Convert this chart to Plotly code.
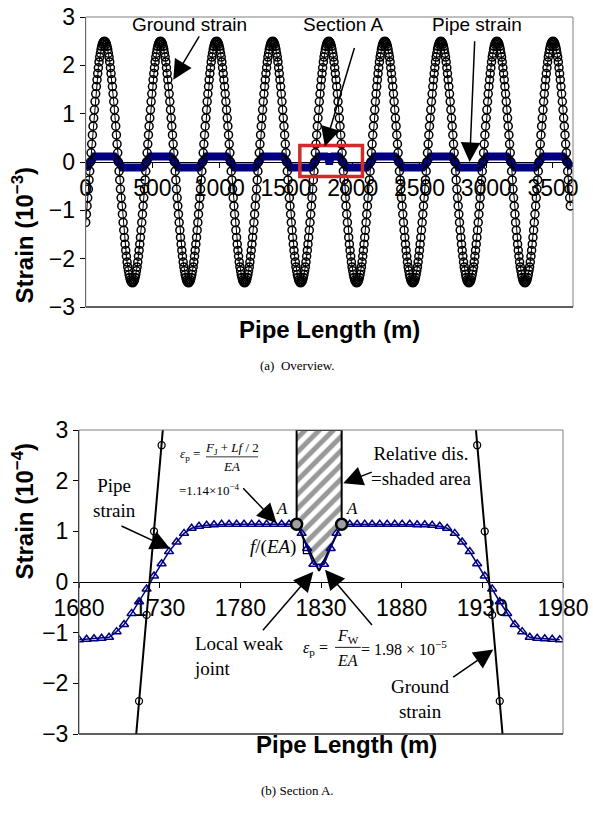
import plotly.graph_objects as go

# ---------------- DATA ----------------
# (a) Overview: ground strain (10^-3) sampled every 5 m from 0 to 3630 m
ground_top = [
 -1.25, -1.08, -0.91, -0.74, -0.56, -0.37, -0.19, 0.0, 0.19, 0.37, 0.56, 0.74, 0.91, 1.08, 1.25, 1.41, 1.56, 1.70, 1.83, 1.95, 2.07, 2.17, 2.25, 2.33, 2.39, 2.44, 2.47, 2.49, 2.50, 2.49, 2.47, 2.44, 2.39, 2.33, 2.25, 2.17, 2.07, 1.95, 1.83, 1.70, 1.56, 1.41, 1.25, 1.08, 0.91, 0.74, 0.56, 0.37, 0.19, 0.0, -0.19, -0.37, -0.56, -0.74, -0.91, -1.08, -1.25, -1.41, -1.56, -1.70, -1.83, -1.95, -2.07, -2.17, -2.25, -2.33, -2.39, -2.44, -2.47, -2.49, -2.50, -2.49, -2.47, -2.44, -2.39, -2.33, -2.25, -2.17, -2.07, -1.95, -1.83, -1.70, -1.56, -1.41,
 -1.25, -1.08, -0.91, -0.74, -0.56, -0.37, -0.19, 0.0, 0.19, 0.37, 0.56, 0.74, 0.91, 1.08, 1.25, 1.41, 1.56, 1.70, 1.83, 1.95, 2.07, 2.17, 2.25, 2.33, 2.39, 2.44, 2.47, 2.49, 2.50, 2.49, 2.47, 2.44, 2.39, 2.33, 2.25, 2.17, 2.07, 1.95, 1.83, 1.70, 1.56, 1.41, 1.25, 1.08, 0.91, 0.74, 0.56, 0.37, 0.19, 0.0, -0.19, -0.37, -0.56, -0.74, -0.91, -1.08, -1.25, -1.41, -1.56, -1.70, -1.83, -1.95, -2.07, -2.17, -2.25, -2.33, -2.39, -2.44, -2.47, -2.49, -2.50, -2.49, -2.47, -2.44, -2.39, -2.33, -2.25, -2.17, -2.07, -1.95, -1.83, -1.70, -1.56, -1.41,
 -1.25, -1.08, -0.91, -0.74, -0.56, -0.37, -0.19, 0.0, 0.19, 0.37, 0.56, 0.74, 0.91, 1.08, 1.25, 1.41, 1.56, 1.70, 1.83, 1.95, 2.07, 2.17, 2.25, 2.33, 2.39, 2.44, 2.47, 2.49, 2.50, 2.49, 2.47, 2.44, 2.39, 2.33, 2.25, 2.17, 2.07, 1.95, 1.83, 1.70, 1.56, 1.41, 1.25, 1.08, 0.91, 0.74, 0.56, 0.37, 0.19, 0.0, -0.19, -0.37, -0.56, -0.74, -0.91, -1.08, -1.25, -1.41, -1.56, -1.70, -1.83, -1.95, -2.07, -2.17, -2.25, -2.33, -2.39, -2.44, -2.47, -2.49, -2.50, -2.49, -2.47, -2.44, -2.39, -2.33, -2.25, -2.17, -2.07, -1.95, -1.83, -1.70, -1.56, -1.41,
 -1.25, -1.08, -0.91, -0.74, -0.56, -0.37, -0.19, 0.0, 0.19, 0.37, 0.56, 0.74, 0.91, 1.08, 1.25, 1.41, 1.56, 1.70, 1.83, 1.95, 2.07, 2.17, 2.25, 2.33, 2.39, 2.44, 2.47, 2.49, 2.50, 2.49, 2.47, 2.44, 2.39, 2.33, 2.25, 2.17, 2.07, 1.95, 1.83, 1.70, 1.56, 1.41, 1.25, 1.08, 0.91, 0.74, 0.56, 0.37, 0.19, 0.0, -0.19, -0.37, -0.56, -0.74, -0.91, -1.08, -1.25, -1.41, -1.56, -1.70, -1.83, -1.95, -2.07, -2.17, -2.25, -2.33, -2.39, -2.44, -2.47, -2.49, -2.50, -2.49, -2.47, -2.44, -2.39, -2.33, -2.25, -2.17, -2.07, -1.95, -1.83, -1.70, -1.56, -1.41,
 -1.25, -1.08, -0.91, -0.74, -0.56, -0.37, -0.19, 0.0, 0.19, 0.37, 0.56, 0.74, 0.91, 1.08, 1.25, 1.41, 1.56, 1.70, 1.83, 1.95, 2.07, 2.17, 2.25, 2.33, 2.39, 2.44, 2.47, 2.49, 2.50, 2.49, 2.47, 2.44, 2.39, 2.33, 2.25, 2.17, 2.07, 1.95, 1.83, 1.70, 1.56, 1.41, 1.25, 1.08, 0.91, 0.74, 0.56, 0.37, 0.19, 0.0, -0.19, -0.37, -0.56, -0.74, -0.91, -1.08, -1.25, -1.41, -1.56, -1.70, -1.83, -1.95, -2.07, -2.17, -2.25, -2.33, -2.39, -2.44, -2.47, -2.49, -2.50, -2.49, -2.47, -2.44, -2.39, -2.33, -2.25, -2.17, -2.07, -1.95, -1.83, -1.70, -1.56, -1.41,
 -1.25, -1.08, -0.91, -0.74, -0.56, -0.37, -0.19, 0.0, 0.19, 0.37, 0.56, 0.74, 0.91, 1.08, 1.25, 1.41, 1.56, 1.70, 1.83, 1.95, 2.07, 2.17, 2.25, 2.33, 2.39, 2.44, 2.47, 2.49, 2.50, 2.49, 2.47, 2.44, 2.39, 2.33, 2.25, 2.17, 2.07, 1.95, 1.83, 1.70, 1.56, 1.41, 1.25, 1.08, 0.91, 0.74, 0.56, 0.37, 0.19, 0.0, -0.19, -0.37, -0.56, -0.74, -0.91, -1.08, -1.25, -1.41, -1.56, -1.70, -1.83, -1.95, -2.07, -2.17, -2.25, -2.33, -2.39, -2.44, -2.47, -2.49, -2.50, -2.49, -2.47, -2.44, -2.39, -2.33, -2.25, -2.17, -2.07, -1.95, -1.83, -1.70, -1.56, -1.41,
 -1.25, -1.08, -0.91, -0.74, -0.56, -0.37, -0.19, 0.0, 0.19, 0.37, 0.56, 0.74, 0.91, 1.08, 1.25, 1.41, 1.56, 1.70, 1.83, 1.95, 2.07, 2.17, 2.25, 2.33, 2.39, 2.44, 2.47, 2.49, 2.50, 2.49, 2.47, 2.44, 2.39, 2.33, 2.25, 2.17, 2.07, 1.95, 1.83, 1.70, 1.56, 1.41, 1.25, 1.08, 0.91, 0.74, 0.56, 0.37, 0.19, 0.0, -0.19, -0.37, -0.56, -0.74, -0.91, -1.08, -1.25, -1.41, -1.56, -1.70, -1.83, -1.95, -2.07, -2.17, -2.25, -2.33, -2.39, -2.44, -2.47, -2.49, -2.50, -2.49, -2.47, -2.44, -2.39, -2.33, -2.25, -2.17, -2.07, -1.95, -1.83, -1.70, -1.56, -1.41,
 -1.25, -1.08, -0.91, -0.74, -0.56, -0.37, -0.19, 0.0, 0.19, 0.37, 0.56, 0.74, 0.91, 1.08, 1.25, 1.41, 1.56, 1.70, 1.83, 1.95, 2.07, 2.17, 2.25, 2.33, 2.39, 2.44, 2.47, 2.49, 2.50, 2.49, 2.47, 2.44, 2.39, 2.33, 2.25, 2.17, 2.07, 1.95, 1.83, 1.70, 1.56, 1.41, 1.25, 1.08, 0.91, 0.74, 0.56, 0.37, 0.19, 0.0, -0.19, -0.37, -0.56, -0.74, -0.91, -1.08, -1.25, -1.41, -1.56, -1.70, -1.83, -1.95, -2.07, -2.17, -2.25, -2.33, -2.39, -2.44, -2.47, -2.49, -2.50, -2.49, -2.47, -2.44, -2.39, -2.33, -2.25, -2.17, -2.07, -1.95, -1.83, -1.70, -1.56, -1.41,
 -1.25, -1.08, -0.91, -0.74, -0.56, -0.37, -0.19, 0.0, 0.19, 0.37, 0.56, 0.74, 0.91, 1.08, 1.25, 1.41, 1.56, 1.70, 1.83, 1.95, 2.07, 2.17, 2.25, 2.33, 2.39, 2.44, 2.47, 2.49, 2.50, 2.49, 2.47, 2.44, 2.39, 2.33, 2.25, 2.17, 2.07, 1.95, 1.83, 1.70, 1.56, 1.41, 1.25, 1.08, 0.91, 0.74, 0.56, 0.37, 0.19, 0.0, -0.19, -0.37, -0.56, -0.74, -0.91,
]
GROUND_STEP_M = 5
ground_top_x = [GROUND_STEP_M * i for i in range(len(ground_top))]

# (a) Overview: pipe strain (10^-3), breakpoints along the pipe
pipe_top_x = [0, 5, 15, 25, 35, 45, 55, 65,
              215, 225, 235, 245, 255, 265, 275,
              425, 435, 445, 455, 465, 475, 485,
              635, 645, 655, 665, 675, 685, 695,
              845, 855, 865, 875, 885, 895, 905,
              1055, 1065, 1075, 1085, 1095, 1105, 1115,
              1265, 1275, 1285, 1295, 1305, 1315, 1325,
              1475, 1485, 1495, 1505, 1515, 1525, 1535,
              1685, 1695, 1705, 1715, 1725, 1735, 1745,
              1805, 1815, 1822, 1828, 1835, 1845,
              1895, 1905, 1915, 1925, 1935, 1945, 1955,
              2105, 2115, 2125, 2135, 2145, 2155, 2165,
              2315, 2325, 2335, 2345, 2355, 2365, 2375,
              2525, 2535, 2545, 2555, 2565, 2575, 2585,
              2735, 2745, 2755, 2765, 2775, 2785, 2795,
              2945, 2955, 2965, 2975, 2985, 2995, 3005,
              3155, 3165, 3175, 3185, 3195, 3205, 3215,
              3365, 3375, 3385, 3395, 3405, 3415, 3425,
              3575, 3585, 3595, 3605, 3615, 3625, 3635, 3640]
pipe_top = [-0.115, -0.115, -0.10, -0.055, 0, 0.055, 0.10, 0.115,
            0.115, 0.10, 0.055, 0, -0.055, -0.10, -0.115,
            -0.115, -0.10, -0.055, 0, 0.055, 0.10, 0.115,
            0.115, 0.10, 0.055, 0, -0.055, -0.10, -0.115,
            -0.115, -0.10, -0.055, 0, 0.055, 0.10, 0.115,
            0.115, 0.10, 0.055, 0, -0.055, -0.10, -0.115,
            -0.115, -0.10, -0.055, 0, 0.055, 0.10, 0.115,
            0.115, 0.10, 0.055, 0, -0.055, -0.10, -0.115,
            -0.115, -0.10, -0.055, 0, 0.055, 0.10, 0.115,
            0.115, 0.105, 0.02, 0.02, 0.105, 0.115,
            0.115, 0.10, 0.055, 0, -0.055, -0.10, -0.115,
            -0.115, -0.10, -0.055, 0, 0.055, 0.10, 0.115,
            0.115, 0.10, 0.055, 0, -0.055, -0.10, -0.115,
            -0.115, -0.10, -0.055, 0, 0.055, 0.10, 0.115,
            0.115, 0.10, 0.055, 0, -0.055, -0.10, -0.115,
            -0.115, -0.10, -0.055, 0, 0.055, 0.10, 0.115,
            0.115, 0.10, 0.055, 0, -0.055, -0.10, -0.115,
            -0.115, -0.10, -0.055, 0, 0.055, 0.10, 0.115,
            0.115, 0.10, 0.055, 0, -0.055, -0.10, -0.115, -0.115]

top_xticks = [0, 500, 1000, 1500, 2000, 2500, 3000, 3500]
strain_ticks = [-3, -2, -1, 0, 1, 2, 3]
section_box_x = [1604, 2073]
section_box_y = [-0.30, 0.34]

# (b) Section A: pipe strain (10^-4)
pipe_sec_x = [1680.0, 1684.7, 1689.3, 1694.0, 1698.6, 1703.3, 1707.9, 1712.6, 1717.2, 1721.9,
              1726.5, 1731.2, 1735.8, 1740.5, 1745.1, 1749.8, 1754.4, 1759.1, 1763.7, 1768.4,
              1773.0, 1777.7, 1782.3, 1787.0, 1791.6, 1796.3, 1800.9, 1805.6, 1810.2,
              1814.9, 1818.0, 1821.4, 1825.3, 1831.9, 1836.0, 1839.6, 1842.8,
              1847.8, 1852.4, 1857.1, 1861.7, 1866.4, 1871.0, 1875.7, 1880.3, 1885.0, 1889.6,
              1894.3, 1898.9, 1903.6, 1908.2, 1912.9, 1917.5, 1922.2, 1926.8, 1931.5, 1936.1,
              1940.8, 1945.4, 1950.1, 1954.7, 1959.4, 1964.0, 1968.7, 1973.3, 1978.0]
pipe_sec = [-1.14, -1.13, -1.12, -1.11, -1.09, -0.98, -0.84, -0.62, -0.39, -0.14,
            0.12, 0.36, 0.60, 0.79, 0.96, 1.06, 1.10, 1.12, 1.13, 1.14,
            1.14, 1.14, 1.14, 1.14, 1.14, 1.14, 1.14, 1.14, 1.14,
            1.14, 0.96, 0.66, 0.35, 0.35, 0.66, 0.96, 1.14,
            1.14, 1.14, 1.14, 1.14, 1.14, 1.14, 1.14, 1.14, 1.14, 1.13,
            1.13, 1.12, 1.10, 1.06, 0.96, 0.79, 0.60, 0.36, 0.12, -0.14,
            -0.39, -0.62, -0.84, -0.98, -1.09, -1.11, -1.12, -1.13, -1.14]

# (b) Section A: ground strain (10^-4) near its two zero crossings
ground_sec_x = [1712.6, 1717.2, 1721.9, 1726.5, 1731.2, 1735.8, None,
                1922.2, 1926.8, 1931.5, 1936.1, 1940.8, 1945.4]
ground_sec = [-4.05, -2.35, -0.65, 1.0, 2.7, 4.4, None,
              4.4, 2.7, 1.0, -0.65, -2.35, -4.05]

# points A and the shaded relative-displacement region
a_x = [1814.9, 1842.8]
a_y = [1.14, 1.14]
shade_x = [1814.9, 1814.9, 1828.8, 1842.8, 1842.8, 1814.9]
shade_y = [3, 1.14, 0.22, 1.14, 3, 3]
slope_x = [1819.1, 1819.1, 1824.5]
slope_y = [0.90, 0.56, 0.56]
sec_xticks = [1680, 1730, 1780, 1830, 1880, 1930, 1980]

# ---------------- FIGURE ----------------
W, H = 593, 813
NAVY = "#000080"
SANS = "Liberation Sans, Arial, sans-serif"
SERIF = "Liberation Serif, Times New Roman, serif"

def px(xp):
    return xp / W

def py(yp):
    return 1 - yp / H

top_dom_x = [px(85.7), px(573)]
top_dom_y = [py(307), py(17)]
bot_dom_x = [px(79), px(563)]
bot_dom_y = [py(734), py(430)]

fig = go.Figure()

# --- (a) overview ---
fig.add_trace(go.Scatter(x=pipe_top_x, y=pipe_top, mode="lines",
                         line=dict(color=NAVY, width=8),
                         xaxis="x", yaxis="y", hoverinfo="skip"))
fig.add_trace(go.Scatter(x=ground_top_x, y=ground_top, mode="lines+markers",
                         line=dict(color="black", width=1),
                         marker=dict(symbol="circle-open", size=8, color="black",
                                     line=dict(width=1.5, color="black")),
                         xaxis="x", yaxis="y", hoverinfo="skip"))

# --- (b) section A ---
fig.add_trace(go.Scatter(x=shade_x, y=shade_y, mode="lines", fill="toself",
                         fillcolor="white",
                         fillpattern=dict(shape="/", fgcolor="#999999", bgcolor="white",
                                          size=10, solidity=0.5),
                         line=dict(color="black", width=2),
                         xaxis="x2", yaxis="y2", hoverinfo="skip"))
fig.add_trace(go.Scatter(x=pipe_sec_x, y=pipe_sec, mode="lines+markers",
                         line=dict(color=NAVY, width=1.5),
                         marker=dict(symbol="triangle-up-open", size=8, color=NAVY,
                                     line=dict(width=1.5, color=NAVY)),
                         xaxis="x2", yaxis="y2", hoverinfo="skip"))
fig.add_trace(go.Scatter(x=ground_sec_x, y=ground_sec, mode="lines+markers",
                         line=dict(color="black", width=2),
                         marker=dict(symbol="circle-open", size=7, color="black",
                                     line=dict(width=1.3, color="black")),
                         xaxis="x2", yaxis="y2", hoverinfo="skip", connectgaps=False))
fig.add_trace(go.Scatter(x=slope_x, y=slope_y, mode="lines",
                         line=dict(color="black", width=1.2),
                         xaxis="x2", yaxis="y2", hoverinfo="skip"))
fig.add_trace(go.Scatter(x=a_x, y=a_y, mode="markers",
                         marker=dict(symbol="circle", size=11, color="#a0a0a0",
                                     line=dict(width=2.5, color="black")),
                         xaxis="x2", yaxis="y2", hoverinfo="skip"))

axis_common = dict(showgrid=False, zeroline=False, showline=True, linecolor="black",
                   linewidth=1, ticks="outside", ticklen=5, tickcolor="black",
                   automargin=False,
                   tickfont=dict(family=SANS, size=23, color="black"))

fig.update_layout(
    template="none",
    width=W, height=H, margin=dict(l=0, r=0, t=0, b=0, pad=0), autosize=False,
    paper_bgcolor="white", plot_bgcolor="white", showlegend=False,
    xaxis=dict(domain=top_dom_x, range=[0, 3650], tickvals=top_xticks,
               anchor="free", position=(top_dom_y[0] + top_dom_y[1]) / 2,
               layer="below traces", **axis_common),
    yaxis=dict(domain=top_dom_y, range=[-3, 3], tickvals=strain_ticks, anchor="x",
               **axis_common),
    xaxis2=dict(domain=bot_dom_x, range=[1680, 1980], tickvals=sec_xticks,
                anchor="free", position=(bot_dom_y[0] + bot_dom_y[1]) / 2,
                layer="below traces", **axis_common),
    yaxis2=dict(domain=bot_dom_y, range=[-3, 3], tickvals=strain_ticks, anchor="x2",
                **axis_common),
)

shapes = []
for xr, yr in (("x", "y"), ("x2", "y2")):
    shapes.append(dict(type="rect", xref=f"{xr} domain", yref=f"{yr} domain",
                       x0=0, x1=1, y0=0, y1=1, line=dict(color="#808080", width=1)))
    shapes.append(dict(type="line", xref=f"{xr} domain", yref=f"{yr} domain",
                       x0=0, x1=1, y0=0, y1=0, line=dict(color="black", width=1)))
# Section A box on overview
shapes.append(dict(type="rect", xref="x", yref="y",
                   x0=section_box_x[0], x1=section_box_x[1],
                   y0=section_box_y[0], y1=section_box_y[1],
                   line=dict(color="#d42a2a", width=3.5)))
# fraction bars
shapes.append(dict(type="line", xref="x2", yref="y2", x0=1758.7, x1=1791, y0=2.47, y1=2.47,
                   line=dict(color="black", width=0.8)))
shapes.append(dict(type="line", xref="x2", yref="y2", x0=1838.7, x1=1854.6, y0=-1.29, y1=-1.29,
                   line=dict(color="black", width=0.9)))
fig.update_layout(shapes=shapes)

ann = []

def text(x, y, s, size, family=SANS, xref="x", yref="y", **kw):
    d = dict(x=x, y=y, xref=xref, yref=yref, text=s, showarrow=False,
             font=dict(family=family, size=size, color="black"))
    d.update(kw)
    ann.append(d)

def arrow(tx, ty, fx, fy, xref="x", yref="y", size=2.6):
    ann.append(dict(x=tx, y=ty, ax=fx, ay=fy, xref=xref, yref=yref,
                    axref=xref, ayref=yref, text="", showarrow=True,
                    arrowhead=2, arrowsize=size, arrowwidth=1.5, arrowcolor="black"))

# overview labels
text(780, 2.84, "Ground strain", 19)
arrow(656, 1.70, 857, 2.63)
text(1933, 2.84, "Section A", 19)
arrow(1791, 0.32, 2016, 2.39)
text(2929, 2.84, "Pipe strain", 19)
arrow(2876, 0.0, 2914, 2.53)

# section A labels
X2 = dict(xref="x2", yref="y2")
text(1702.3, 1.66, "Pipe<br>strain", 19, SERIF, **X2)
arrow(1736.4, 0.66, 1705.4, 1.12, **X2)
text(1748.8, 2.51, "<i>ε</i><sub>p</sub> =", 13, SERIF, **X2)
text(1774.7, 2.64, "<i>F</i><sub>J</sub> + <i>Lf</i> / 2", 13, SERIF, **X2)
text(1774.7, 2.28, "<i>EA</i>", 13, SERIF, **X2)
text(1760.6, 1.82, "=1.14×10<sup>−4</sup>", 13, SERIF, **X2)
arrow(1802.5, 1.16, 1780.9, 1.88, **X2)
text(1805.6, 1.45, "<i>A</i>", 17, SERIF, **X2)
text(1849.0, 1.45, "<i>A</i>", 17, SERIF, **X2)
text(1815.7, 0.70, "<i>f</i>/(<i>EA</i>)", 19, SERIF, xanchor="right", **X2)
text(1892.0, 2.29, "Relative dis.<br>=shaded area", 19, SERIF, **X2)
arrow(1843.8, 1.95, 1862.4, 2.18, **X2)
text(1749.9, -1.47, "Local weak<br>joint", 19, SERIF, xanchor="left", align="left", **X2)
arrow(1825.2, 0.20, 1793.2, -0.98, **X2)
text(1826.8, -1.31, "<i>ε</i><sub>p</sub> =", 16, SERIF, **X2)
text(1846.7, -1.07, "<i>F</i><sub>W</sub>", 16, SERIF, **X2)
text(1846.7, -1.54, "<i>EA</i>", 16, SERIF, **X2)
text(1881.5, -1.31, "= 1.98 × 10<sup>−5</sup>", 16, SERIF, **X2)
arrow(1832.5, 0.24, 1862.4, -0.88, **X2)
text(1891.4, -2.31, "Ground<br>strain", 19, SERIF, **X2)
arrow(1936.8, -1.33, 1911.0, -1.90, **X2)

# axis titles and captions
P = dict(xref="paper", yref="paper")
text(px(329), py(329), "<b>Pipe Length (m)</b>", 24, **P)
text(px(347), py(760), "<b>Pipe Length (m)</b>", 24, **P)
text(px(22), py(165), "<b>Strain (10<sup>−3</sup>)</b>", 24, textangle=-90,
     xanchor="center", **P)
text(px(22), py(582), "<b>Strain (10<sup>−4</sup>)</b>", 24, textangle=-90,
     xanchor="center", **P)
text(px(297), py(365), "(a)  Overview.", 13, SERIF, **P)
text(px(297), py(800), "(b) Section A.", 13, SERIF, **P)

fig.update_layout(annotations=ann)

fig.write_html("out.html", config={"displayModeBar": False},
               post_script="document.body.style.margin='0';document.body.style.padding='0';")
